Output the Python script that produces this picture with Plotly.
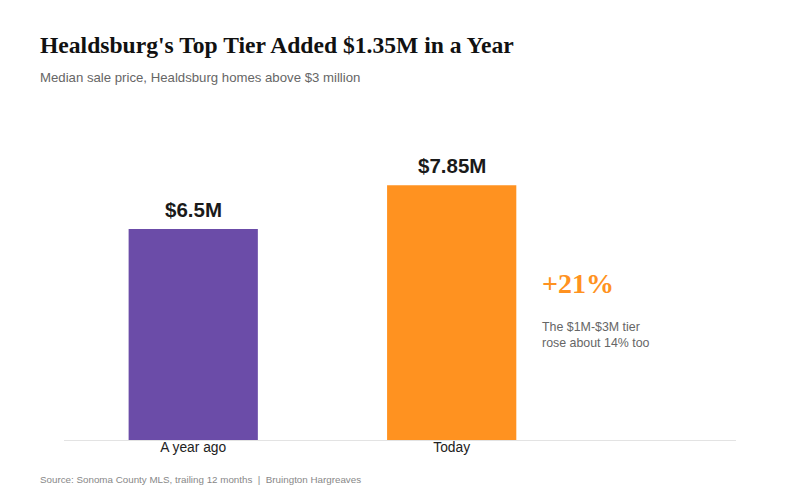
import plotly.graph_objects as go

categories = ["A year ago", "Today"]
values = [6.5, 7.85]
labels = ["$6.5M", "$7.85M"]
colors = ["#6B4CA8", "#FF9220"]

OFF = 8  # page offset of the figure inside the browser window
plot_top, plot_h = 148 - OFF, 292


def py(ypix):
    """reference page pixel -> paper y"""
    return (plot_top + plot_h - (ypix - OFF)) / plot_h


def px(xpix):
    return (xpix - 2 - OFF - 56) / 672


fig = go.Figure()
fig.add_trace(go.Bar(
    x=categories, y=values, width=0.5,
    marker=dict(color=colors, line=dict(width=0)),
    hoverinfo="skip",
))

for c, v, t in zip(categories, values, labels):
    fig.add_annotation(x=c, y=v, text="<b>" + t + "</b>", showarrow=False,
                       xanchor="center", yanchor="bottom", yshift=6,
                       font=dict(family="Liberation Sans, Arial, sans-serif", size=20.5, color="#1a1a1a"))

fig.update_layout(
    width=800, height=500,
    paper_bgcolor="white", plot_bgcolor="white",
    margin=dict(l=56, r=72, t=plot_top, b=500 - plot_top - plot_h),
    showlegend=False,
    xaxis=dict(range=[-0.5, 2.1], showgrid=False, showline=True, linecolor="#e3e3e3", linewidth=1,
               ticks="", ticklabelstandoff=-6,
               tickfont=dict(family="Liberation Sans, Arial, sans-serif", size=13.8, color="#222222"),
               fixedrange=True),
    yaxis=dict(range=[0, 9], visible=False, showgrid=False, zeroline=False, fixedrange=True),
    font=dict(family="Liberation Sans, Arial, sans-serif"),
)

fig.add_annotation(text="<b>Healdsburg's Top Tier Added $1.35M in a Year</b>",
                   xref="paper", yref="paper", x=px(40), y=py(44.5),
                   xanchor="left", yanchor="middle", showarrow=False,
                   font=dict(family="Liberation Serif, Times New Roman, serif", size=23.6, color="#111111"))
fig.add_annotation(text="Median sale price, Healdsburg homes above $3 million",
                   xref="paper", yref="paper", x=px(40), y=py(77), showarrow=False,
                   xanchor="left", yanchor="middle",
                   font=dict(size=13.2, color="#666666"))
fig.add_annotation(text="<b>+21%</b>", xref="paper", yref="paper", x=px(542), y=py(283),
                   xanchor="left", yanchor="middle", showarrow=False,
                   font=dict(family="Liberation Serif, Times New Roman, serif", size=28, color="#FF9220"))
fig.add_annotation(text="The $1M-$3M tier<br>rose about 14% too", xref="paper", yref="paper",
                   x=px(542), y=py(318), xanchor="left", yanchor="top", align="left", showarrow=False,
                   font=dict(size=12.4, color="#666666"))
fig.add_annotation(text="Source: Sonoma County MLS, trailing 12 months  |  Bruington Hargreaves",
                   xref="paper", yref="paper", x=px(40), y=py(479), xanchor="left", yanchor="middle",
                   showarrow=False, font=dict(size=9.8, color="#888888"))

fig.write_html("out.html")
